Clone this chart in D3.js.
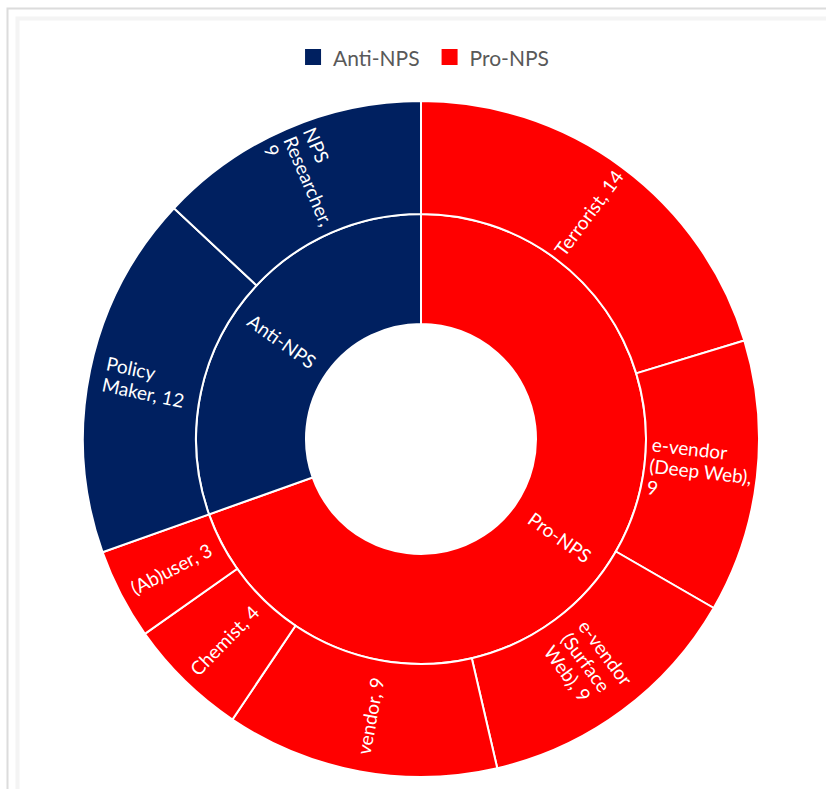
<!DOCTYPE html>
<html>
<head>
<meta charset="utf-8">
<script src="https://cdn.jsdelivr.net/npm/d3@7/dist/d3.min.js"></script>
<style>
  html, body { margin: 0; padding: 0; background: #ffffff; }
  svg { display: block; }
  text { font-family: Lato, "Open Sans", sans-serif; }
</style>
</head>
<body>
<svg id="chart" width="826" height="789"></svg>
<script>
// Stakeholder groups (inner ring) and roles (outer ring)
const groupNames = ["Pro-NPS", "Anti-NPS"];
const groupColors = ["#ff0000", "#002060"];
const roleNames = ["Terrorist", "e-vendor (Deep Web)", "e-vendor (Surface Web)", "vendor",
                   "Chemist", "(Ab)user", "Policy Maker", "NPS Researcher"];
const roleGroups = ["Pro-NPS", "Pro-NPS", "Pro-NPS", "Pro-NPS",
                    "Pro-NPS", "Pro-NPS", "Anti-NPS", "Anti-NPS"];
const roleValues = [14, 9, 9, 9, 4, 3, 12, 9];
const legendOrder = ["Anti-NPS", "Pro-NPS"];

const W = 826, H = 789;
const cx = 421, cy = 439;
const svg = d3.select("#chart");

// Chart-area frame
const frame = svg.append("g");
frame.append("path").attr("d", `M7.5,${H} V8.5 H${W}`)
  .attr("fill", "none").attr("stroke", "#dcdcdc").attr("stroke-width", 2);
frame.append("path").attr("d", `M17.5,${H} V18.5 H${W}`)
  .attr("fill", "none").attr("stroke", "#f4f4f4").attr("stroke-width", 4);

// Hierarchy built from the arrays above
const tree = {
  name: "root",
  children: groupNames.map(g => ({
    name: g,
    children: roleNames
      .map((n, i) => ({ name: n, group: roleGroups[i], value: roleValues[i] }))
      .filter(r => r.group === g)
  }))
};
const root = d3.hierarchy(tree).sum(d => d.children ? 0 : d.value);
d3.partition().size([2 * Math.PI, 3])(root);

const radius = d3.scaleLinear().domain([1, 2, 3]).range([115, 225, 338]);
const color = d3.scaleOrdinal(groupNames, groupColors);

const arc = d3.arc()
  .startAngle(d => d.x0)
  .endAngle(d => d.x1)
  .innerRadius(d => radius(d.y0))
  .outerRadius(d => radius(d.y1));

const g = svg.append("g").attr("transform", `translate(${cx},${cy})`);
const nodes = root.descendants().filter(d => d.depth > 0);

g.selectAll("path.seg")
  .data(nodes)
  .join("path")
  .attr("class", "seg")
  .attr("d", arc)
  .attr("fill", d => color(d.depth === 1 ? d.data.name : d.parent.data.name))
  .attr("stroke", "#ffffff")
  .attr("stroke-width", 2);

// Radial labels, wrapped to fit the ring thickness
const fontSize = 19;
const lineH = 21.5;
const maxLine = 108;

nodes.forEach(d => {
  const label = d.depth === 1 ? d.data.name : `${d.data.name}, ${d.value}`;
  const a = (d.x0 + d.x1) / 2;
  const r = (radius(d.y0) + radius(d.y1)) / 2;
  const x = Math.sin(a) * r, y = -Math.cos(a) * r;
  let rot = a * 180 / Math.PI - 90;
  if (rot > 90) rot -= 180;

  const t = g.append("text")
    .attr("transform", `translate(${x},${y}) rotate(${rot})`)
    .attr("fill", "#ffffff")
    .attr("font-size", fontSize);

  // greedy word wrap
  const words = label.split(" ");
  const lines = [];
  let cur = "";
  const probe = t.append("tspan");
  words.forEach(w => {
    const tryLine = cur ? cur + " " + w : w;
    probe.text(tryLine);
    if (cur && probe.node().getComputedTextLength() > maxLine) {
      lines.push(cur);
      cur = w;
    } else {
      cur = tryLine;
    }
  });
  lines.push(cur);
  const widths = lines.map(l => { probe.text(l); return probe.node().getComputedTextLength(); });
  probe.remove();
  const bw = d3.max(widths);

  lines.forEach((l, i) => {
    t.append("tspan")
      .attr("x", -bw / 2)
      .attr("y", (i - (lines.length - 1) / 2) * lineH)
      .attr("dominant-baseline", "central")
      .text(l);
  });
});

// Legend
const legend = svg.append("g").attr("transform", "translate(0,56)");
const sw = 16, gap = 22, txtGap = 12;
const items = legend.selectAll("g.item").data(legendOrder).join("g").attr("class", "item");
items.append("rect")
  .attr("width", sw).attr("height", sw).attr("y", -sw / 2 + 1)
  .attr("fill", d => color(d));
items.append("text")
  .attr("x", sw + txtGap)
  .attr("y", 1)
  .attr("dominant-baseline", "central")
  .attr("font-size", 21)
  .attr("fill", "#595959")
  .text(d => d);
let widthsL = [];
items.each(function () { widthsL.push(this.getBBox().width); });
const totalL = d3.sum(widthsL) + gap * (widthsL.length - 1);
let xoff = cx + 6 - totalL / 2;
items.attr("transform", (d, i) => {
  const tx = xoff;
  xoff += widthsL[i] + gap;
  return `translate(${tx},0)`;
});
</script>
</body>
</html>
